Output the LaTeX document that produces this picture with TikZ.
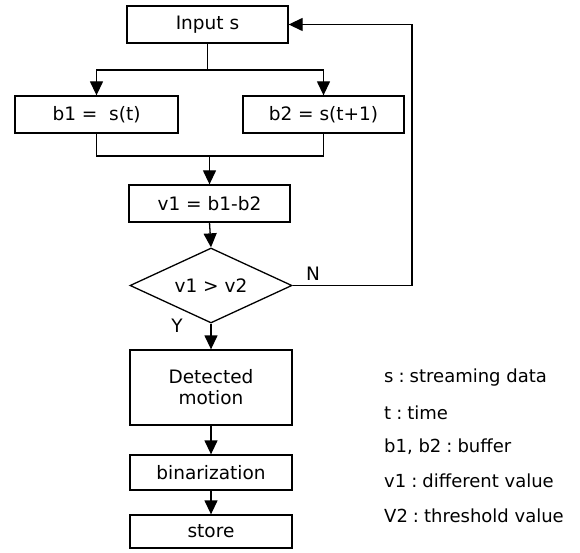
\documentclass[tikz,border=0pt]{standalone}
\usepackage{fontspec}
\setmainfont{DejaVu Sans}
\usetikzlibrary{arrows.meta,shapes.geometric}
\newcommand{\lsep}{\hspace{.28em}:\hspace{.28em}}
\begin{document}
\begin{tikzpicture}[x=1pt,y=-1pt,
  every node/.style={font=\fontsize{18.5}{21}\selectfont},
  box/.style={draw,line width=1.3pt,inner sep=0pt,minimum width=161pt,minimum height=37pt},
  dia/.style={draw,diamond,line width=1.3pt,inner sep=0pt,aspect=2.16,minimum width=162pt,minimum height=75pt},
  conn/.style={line width=1.3pt},
  arr/.style={conn,-{Triangle[width=13pt,length=14pt]}},
  lab/.style={anchor=west,inner sep=0pt,font=\fontsize{18}{20}\selectfont}]
\useasboundingbox (0,0) rectangle (580,553);
\node[box] (input) at (207.5,24.5) {Input s};
\node[box,minimum width=163pt] (b1) at (96.5,114.5) {b1 =\ \ s(t)};
\node[box] (b2) at (323.5,114.5) {b2 = s(t+1)};
\node[box] (v1) at (209.5,203.5) {v1 = b1-b2};
\node[dia] (d) at (211,285.5) {v1 > v2};
\node[box,minimum width=162pt,minimum height=75pt,align=center] (det) at (211,387.5) {Detected\\motion};
\node[box,minimum width=162pt,minimum height=35pt] (bin) at (211,472.5) {binarization};
\node[box,minimum width=162pt,minimum height=33pt] (store) at (211,531.5) {store};
\coordinate (fork) at (207.5,70);
\coordinate (merge) at (209.5,156);
\coordinate (loopc) at (412,285.5);
\draw[conn] (input.south) -- (fork);
\draw[arr] (fork) -| (b1.north);
\draw[arr] (fork) -| (b2.north);
\draw[conn] (b1.south) |- (merge);
\draw[conn] (b2.south) |- (merge);
\draw[arr] (merge) -- (v1.north);
\draw[arr] (v1.south) -- (d.north);
\draw[arr] (d.south) -- (det.north);
\draw[arr] (det.south) -- (bin.north);
\draw[arr] (bin.south) -- (store.north);
\draw[arr] (d.east) -- (loopc) |- (input.east);
\node (N) at (313,274) {N};
\node (Y) at (177,326) {Y};
\node[lab] (l1) at (384,378) {s\lsep streaming data};
\node[lab] (l2) at (384,413) {t\lsep time};
\node[lab] (l3) at (384,447) {b1, b2\lsep buffer};
\node[lab] (l4) at (384,481) {v1\lsep different value};
\node[lab] (l5) at (384,516) {V2\lsep threshold value};
\end{tikzpicture}
\end{document}
